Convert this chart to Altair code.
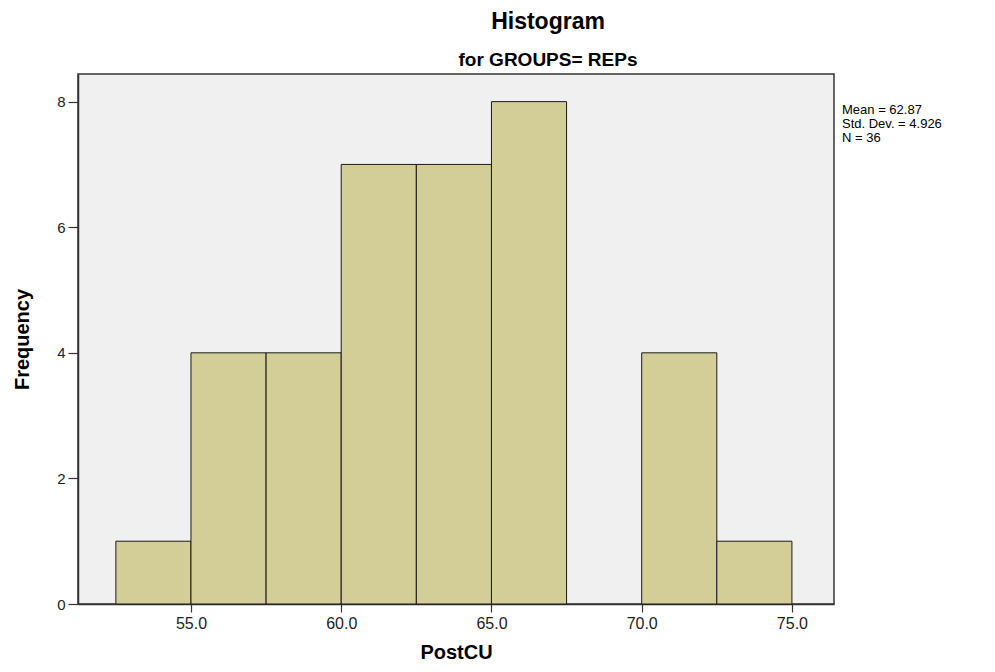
import altair as alt
import pandas as pd

bin_start = [52.5, 55.0, 57.5, 60.0, 62.5, 65.0, 67.5, 70.0, 72.5]
bin_end = [55.0, 57.5, 60.0, 62.5, 65.0, 67.5, 70.0, 72.5, 75.0]
counts = [1, 4, 4, 7, 7, 8, 0, 4, 1]
x_ticks = [55.0, 60.0, 65.0, 70.0, 75.0]
y_ticks = [0, 2, 4, 6, 8]
stats_lines = ["Mean = 62.87", "Std. Dev. = 4.926", "N = 36"]

df = pd.DataFrame({"start": bin_start, "end": bin_end, "count": counts})
df = df[df["count"] > 0]

FONT = "Liberation Sans"

x_scale = alt.Scale(domain=[51.24, 76.4], nice=False, zero=False)
y_scale = alt.Scale(domain=[0, 8.44], nice=False)

bars = alt.Chart(df).mark_bar(
    color="#D3CE97", stroke="#1a1a1a", strokeWidth=1
).encode(
    x=alt.X("start:Q", scale=x_scale,
            axis=alt.Axis(values=x_ticks, format=".1f", title="PostCU",
                          grid=False, tickSize=8, labelPadding=3,
                          labelFontSize=16, titleFontSize=20,
                          titlePadding=11)),
    x2="end:Q",
    y=alt.Y("count:Q", scale=y_scale,
            axis=alt.Axis(values=y_ticks, format="d", title="Frequency",
                          grid=False, tickSize=10, labelPadding=3,
                          labelFontSize=15, titleFontSize=20,
                          titlePadding=24)),
    y2=alt.datum(0),
)

stats = alt.Chart(pd.DataFrame({"t": ["\n".join(stats_lines)]})).mark_text(
    align="left", baseline="top", font=FONT, fontSize=13, lineBreak="\n",
    lineHeight=14, color="#000"
).encode(
    x=alt.value(764), y=alt.value(30), text="t:N"
)

chart = (bars + stats).properties(
    width=756, height=530,
    title=alt.TitleParams(
        text="Histogram", subtitle="for GROUPS= REPs", anchor="middle",
        dx=92, font=FONT, fontSize=23, fontWeight="bold", color="#000",
        subtitleFont=FONT, subtitleFontSize=19, subtitleFontWeight="bold",
        subtitleColor="#000", subtitlePadding=17, offset=4
    ),
    autosize=alt.AutoSizeParams(type="none"),
    padding={"left": 70, "top": 66, "right": 140, "bottom": 60},
).configure_view(
    fill="#F0F0F0", stroke="#333", strokeWidth=1.5
).configure_axis(
    labelFont=FONT, labelColor="#222",
    titleFont=FONT, titleFontWeight="bold", titleColor="#000",
    domainColor="#333", domainWidth=1.5, tickColor="#333", tickWidth=1.2
)

chart.save("out.html", embed_options={"renderer": "svg", "actions": False})
